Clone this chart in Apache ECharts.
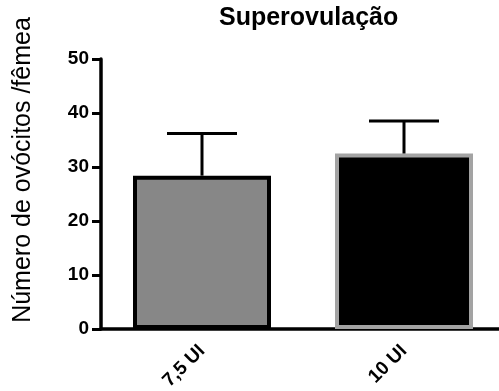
<!DOCTYPE html>
<html>
<head>
<meta charset="utf-8">
<script src="https://cdn.jsdelivr.net/npm/echarts@6/dist/echarts.min.js"></script>
<style>html,body{margin:0;padding:0;background:#fff}#c{width:499px;height:391px}</style>
</head>
<body>
<div id="c"></div>
<script>
const categories = ['7,5 UI', '10 UI'];
const means = [28.4, 32.5];
const errors = [7.8, 6.0];
const fillColors = ['#878787', '#000000'];
const borderColors = ['#000000', '#a3a3a3'];
const yTicks = { min: 0, max: 50, interval: 10 };
const titleText = 'Superovulação';
const yLabel = 'Número de ovócitos /fêmea';

const FONT = 'Liberation Sans, Arial, sans-serif';
const chart = echarts.init(document.getElementById('c'), null, { renderer: 'canvas' });

const barData = means.map((v, i) => ({
  value: v,
  itemStyle: { color: fillColors[i], borderColor: borderColors[i], borderWidth: 4 }
}));
const errData = means.map((v, i) => [i, v, v + errors[i]]);

chart.setOption({
  animation: false,
  backgroundColor: '#fff',
  title: {
    text: titleText, left: 219, top: 6, padding: 0,
    textStyle: { fontFamily: FONT, fontSize: 25, fontWeight: 'bold', color: '#000' }
  },
  graphic: [{
    type: 'text', x: 23, y: 170, rotation: Math.PI / 2,
    style: { text: yLabel, font: '25px ' + FONT, fill: '#000', align: 'center', verticalAlign: 'middle' }
  }],
  grid: { left: 101, top: 59, width: 404, height: 270, containLabel: false, outerBoundsMode: 'none' },
  xAxis: {
    type: 'category', data: categories,
    axisLine: { lineStyle: { color: '#000', width: 3.5 } },
    axisTick: { alignWithLabel: true, length: 8, lineStyle: { color: '#000', width: 3 } },
    axisLabel: { rotate: 45, margin: 19, color: '#000', fontFamily: FONT, fontSize: 19, fontWeight: 'bold' }
  },
  yAxis: {
    type: 'value', min: yTicks.min, max: yTicks.max, interval: yTicks.interval,
    splitLine: { show: false },
    axisLine: { show: true, lineStyle: { color: '#000', width: 3.5 } },
    axisTick: { show: true, length: 9, lineStyle: { color: '#000', width: 3 } },
    axisLabel: { margin: 12, color: '#000', fontFamily: FONT, fontSize: 19, fontWeight: 'bold' }
  },
  series: [{
    type: 'bar', data: barData, barWidth: 138, z: 2
  }, {
    type: 'custom', data: errData, z: 3,
    renderItem: function (params, api) {
      const x = api.value(0);
      const base = api.coord([x, api.value(1)]);
      const top = api.coord([x, api.value(2)]);
      const half = 35;
      const st = { stroke: '#000', lineWidth: 3 };
      return {
        type: 'group', children: [
          { type: 'line', shape: { x1: base[0], y1: base[1], x2: top[0], y2: top[1] }, style: st },
          { type: 'line', shape: { x1: top[0] - half, y1: top[1], x2: top[0] + half, y2: top[1] }, style: st }
        ]
      };
    }
  }]
});
</script>
</body>
</html>
